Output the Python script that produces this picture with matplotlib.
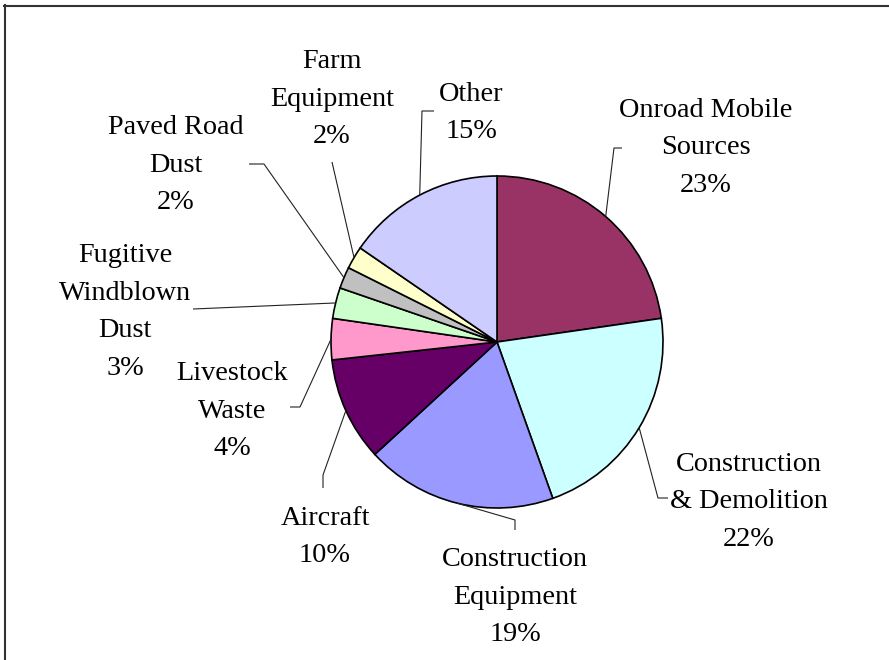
import numpy as np
import matplotlib
matplotlib.use("Agg")
import matplotlib.pyplot as plt
from matplotlib.lines import Line2D

# ---- data ----
categories = ["Onroad Mobile\nSources", "Construction\n& Demolition", "Construction\nEquipment",
              "Aircraft", "Livestock\nWaste", "Fugitive\nWindblown\nDust", "Paved Road\nDust",
              "Farm\nEquipment", "Other"]
values = [22.7, 21.8, 18.6, 10.1, 4.0, 3.0, 2.1, 2.2, 15.4]
colors = ["#993366", "#CCFFFF", "#9999FF", "#660066", "#FF99CC", "#CCFFCC", "#C0C0C0",
          "#FFFFCC", "#CCCCFF"]

W, H = 889, 660
plt.rcParams['font.family'] = ['Liberation Serif', 'DejaVu Serif']

fig = plt.figure(figsize=(W / 100, H / 100), dpi=100)
ax = fig.add_axes([0, 0, 1, 1])

def P(x, y):
    return (x, H - y)

cx, cy = P(497, 342)
R = 166
wedges, _ = ax.pie(values, colors=colors, startangle=90, counterclock=False,
                   center=(cx, cy), radius=R, frame=True,
                   wedgeprops=dict(edgecolor='black', linewidth=1.2))
ax.set_xlim(0, W)
ax.set_ylim(0, H)
ax.set_aspect('equal')
ax.axis('off')

# label layout (pixel coordinates)
label_pos = [(706, 148), (749, 502), (515, 597), (325, 537), (232, 411),
             (125, 312), (176, 165), (332, 99), (471, 113)]
leader_pts = [
    [(614, 148), (622, 148)],
    [(658, 498), (668, 498)],
    [(515, 520), (515, 530)],
    [(323, 475), (323, 488)],
    [(300, 407), (290, 407)],
    [(193, 309)],
    [(264, 164), (249, 164)],
    [(332, 162)],
    [(422, 111), (434, 111)],
]

total = sum(values)
for w, cat, v, (lx, ly), pts in zip(wedges, categories, values, label_pos, leader_pts):
    mid = np.deg2rad((w.theta1 + w.theta2) / 2)
    sx = w.center[0] + w.r * np.cos(mid)
    sy = w.center[1] + w.r * np.sin(mid)
    xs = [sx] + [p[0] for p in pts]
    ys = [sy] + [H - p[1] for p in pts]
    ax.plot(xs, ys, color='#222222', linewidth=0.8, solid_capstyle='butt')
    pct = int(round(v / total * 100))
    ax.text(*P(lx, ly), f"{cat}\n{pct}%", ha='center', va='center', fontsize=20.3,
            linespacing=1.68, color='black')

# frame (top and left edges)
fig.add_artist(Line2D([4 / W, 1], [1 - 5.5 / H, 1 - 5.5 / H], color='#333333', linewidth=1.5,
                      transform=fig.transFigure))
fig.add_artist(Line2D([4.5 / W, 4.5 / W], [0, 1 - 5 / H], color='#333333', linewidth=1.5,
                      transform=fig.transFigure))

fig.savefig("out.png", dpi=100, facecolor='white')
